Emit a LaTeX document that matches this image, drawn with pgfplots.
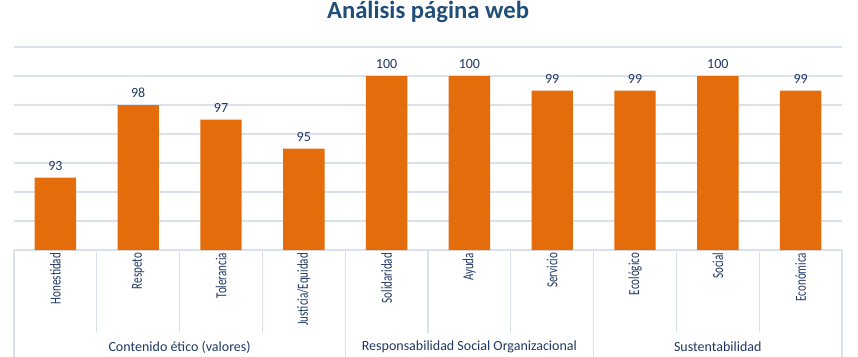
\documentclass[border=0pt]{standalone}
\usepackage{pgfplots}
\pgfplotsset{compat=1.18}
\usepackage{fontspec}
\setmainfont{Carlito}
\definecolor{barorange}{HTML}{E46C0A}
\definecolor{titleblue}{HTML}{1F4E79}
\definecolor{navy}{HTML}{203864}
\definecolor{gridc}{HTML}{D9E1EC}
\begin{document}
\begin{tikzpicture}
\useasboundingbox (-10.5pt,-80.25pt) rectangle (633pt,187.5pt);
\begin{axis}[
  at={(0,0)}, anchor=south west,
  scale only axis,
  width=621pt, height=152.25pt,
  xmin=-0.5, xmax=9.5,
  ymin=88, ymax=102,
  ytick={88,90,...,102},
  yticklabels={},
  ymajorgrids,
  grid style={gridc, line width=0.8pt},
  axis line style={draw=none},
  major tick length=0pt,
  /pgf/number format/assume math mode=true,
  xtick={0,...,9},
  xticklabels={
    \scalebox{0.72}[1]{Honestidad},
    \scalebox{0.72}[1]{Respeto},
    \scalebox{0.72}[1]{Tolerancia},
    \scalebox{0.72}[1]{Justicia/Equidad},
    \scalebox{0.72}[1]{Solidaridad},
    \scalebox{0.72}[1]{Ayuda},
    \scalebox{0.72}[1]{Servicio},
    \scalebox{0.72}[1]{Ecológico},
    \scalebox{0.72}[1]{Social},
    \scalebox{0.72}[1]{Económica}},
  xticklabel style={rotate=90, anchor=east, font=\fontsize{11.5}{13}\selectfont, text=navy, inner sep=2pt},
  clip=false,
  title={Análisis página web},
  title style={at={(0.5,1)}, anchor=center, yshift=20.25pt, font=\fontsize{18.5}{22}\selectfont\bfseries, text=titleblue},
  nodes near coords,
  every node near coord/.append style={font=\fontsize{10.5}{12}\selectfont, text=navy, yshift=2pt},
]
\addplot[ybar, bar width=0.5, fill=barorange, draw=none] coordinates {
  (0,93) (1,98) (2,97) (3,95) (4,100) (5,100) (6,99) (7,99) (8,100) (9,99)
};
\pgfplotsinvokeforeach{0.5,1.5,2.5,4.5,5.5,7.5,8.5}{
  \draw[gridc, line width=0.8pt] (axis cs:#1,88) -- ([yshift=-62.25pt]axis cs:#1,88);
}
\pgfplotsinvokeforeach{-0.5,3.5,6.5,9.5}{
  \draw[gridc, line width=0.8pt] (axis cs:#1,88) -- ([yshift=-80.25pt]axis cs:#1,88);
}
\node[font=\fontsize{10.5}{12}\selectfont, text=navy] at ([yshift=-72.75pt]axis cs:1.5,88) {Contenido ético (valores)};
\node[font=\fontsize{10.5}{12}\selectfont, text=navy] at ([yshift=-72.75pt]axis cs:5,88) {Responsabilidad Social Organizacional};
\node[font=\fontsize{10.5}{12}\selectfont, text=navy] at ([yshift=-72.75pt]axis cs:8,88) {Sustentabilidad};
\end{axis}
\end{tikzpicture}
\end{document}
